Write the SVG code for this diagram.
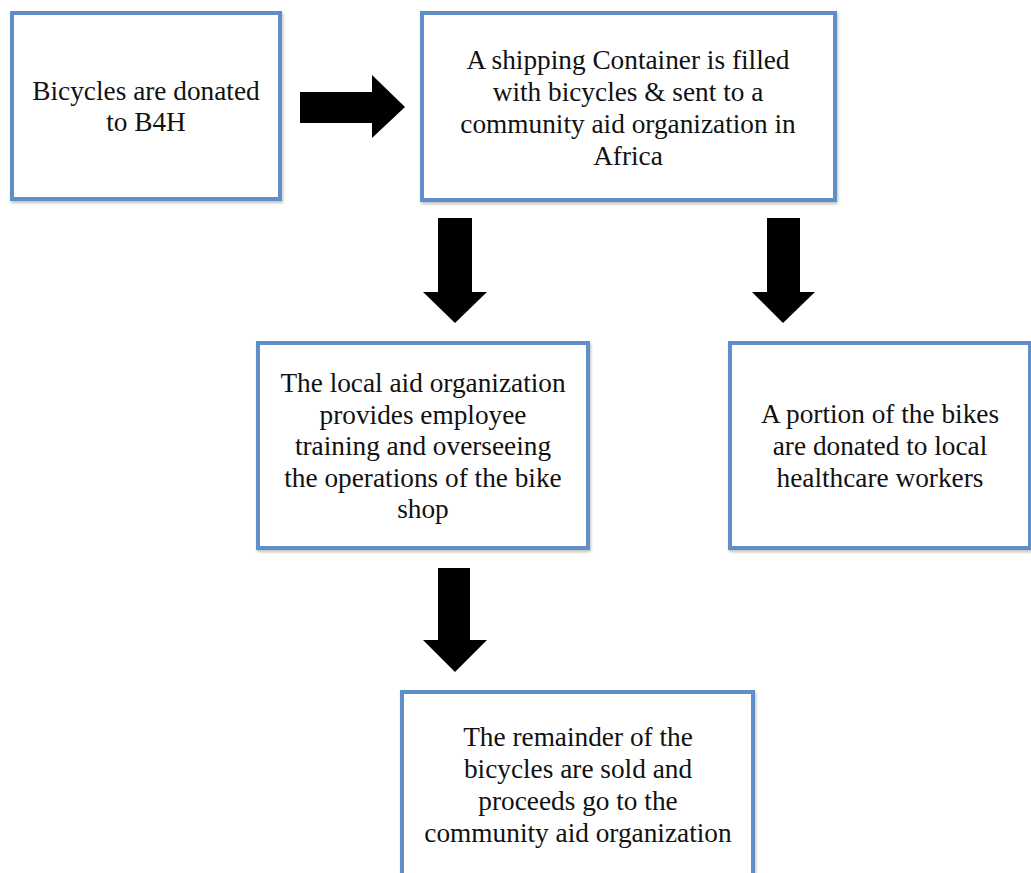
<svg xmlns="http://www.w3.org/2000/svg" width="1031" height="873" viewBox="0 0 1031 873">
<defs>
<filter id="sh" x="-5%" y="-5%" width="110%" height="110%">
<feGaussianBlur in="SourceAlpha" stdDeviation="1.5"/>
<feOffset dx="1" dy="2" result="b"/>
<feFlood flood-color="#000" flood-opacity="0.25"/>
<feComposite in2="b" operator="in"/>
<feMerge><feMergeNode/><feMergeNode in="SourceGraphic"/></feMerge>
</filter>
</defs>
<style>
.box{fill:#fff;stroke:#5e8fcb;stroke-width:4;filter:url(#sh)}
.t{font-family:"Liberation Serif","Times New Roman",serif;font-size:27.3px;fill:#111;text-anchor:middle}
.arr{fill:#000}
</style>
<rect width="1031" height="873" fill="#fff"/>
<g id="connectors">
<polygon class="arr" points="300,92 372,92 372,75 405,107 372,138 372,123 300,123"/>
<polygon class="arr" points="438,218 472,218 472,292 487,292 455,323 423,292 438,292"/>
<polygon class="arr" points="767,218 800,218 800,292 815,292 783,323 752,292 767,292"/>
<polygon class="arr" points="438,568 470,568 470,640 487,640 455,672 423,640 438,640"/>
</g>
<g id="n1">
<rect class="box" x="12" y="13" width="268" height="186"/>
<text class="t" x="146" y="100">Bicycles are donated</text>
<text class="t" x="146" y="131">to B4H</text>
</g>
<g id="n2">
<rect class="box" x="422" y="13" width="413" height="187"/>
<text class="t" x="628" y="69">A shipping Container is filled</text>
<text class="t" x="628" y="101">with bicycles &amp; sent to a</text>
<text class="t" x="628" y="133">community aid organization in</text>
<text class="t" x="628" y="165">Africa</text>
</g>
<g id="n3">
<rect class="box" x="258" y="343" width="330" height="205"/>
<text class="t" x="423" y="392">The local aid organization</text>
<text class="t" x="423" y="424">provides employee</text>
<text class="t" x="423" y="455">training and overseeing</text>
<text class="t" x="423" y="487">the operations of the bike</text>
<text class="t" x="423" y="518">shop</text>
</g>
<g id="n4">
<rect class="box" x="730" y="343" width="300" height="205"/>
<text class="t" x="880" y="423">A portion of the bikes</text>
<text class="t" x="880" y="455">are donated to local</text>
<text class="t" x="880" y="487">healthcare workers</text>
</g>
<g id="n5">
<rect class="box" x="402" y="692" width="351" height="200"/>
<text class="t" x="578" y="746">The remainder of the</text>
<text class="t" x="578" y="778">bicycles are sold and</text>
<text class="t" x="578" y="810">proceeds go to the</text>
<text class="t" x="578" y="842">community aid organization</text>
</g>
</svg>
